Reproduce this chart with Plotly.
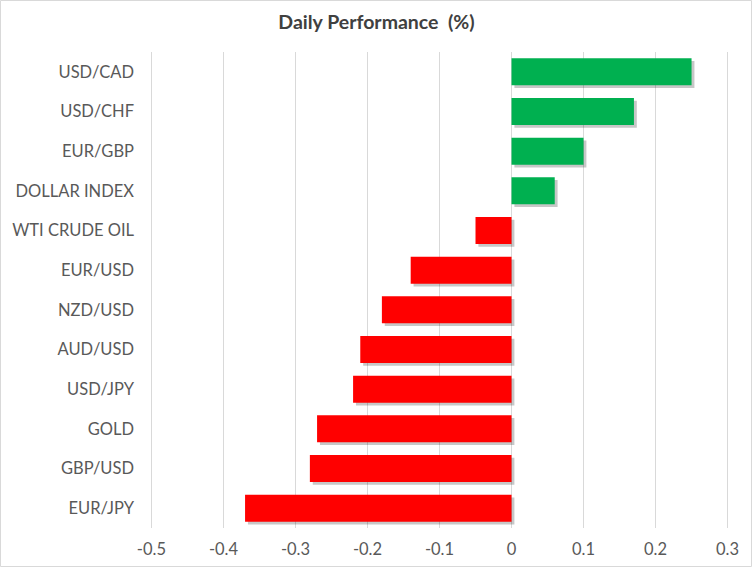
import plotly.graph_objects as go

categories = ["USD/CAD", "USD/CHF", "EUR/GBP", "DOLLAR INDEX", "WTI CRUDE OIL", "EUR/USD",
              "NZD/USD", "AUD/USD", "USD/JPY", "GOLD", "GBP/USD", "EUR/JPY"]
values = [0.25, 0.17, 0.10, 0.06, -0.05, -0.14, -0.18, -0.21, -0.22, -0.27, -0.28, -0.37]
x_ticks = [-0.5, -0.4, -0.3, -0.2, -0.1, 0, 0.1, 0.2, 0.3]
x_tick_labels = ["-0.5", "-0.4", "-0.3", "-0.2", "-0.1", "0", "0.1", "0.2", "0.3"]

GREEN = "#00B050"
RED = "#FF0000"
colors = [GREEN if v >= 0 else RED for v in values]

W, H = 753, 568
L, R, T, B = 150, 24, 52, 40
pw, ph = W - L - R, H - T - B

BAR_W = 0.68
fig = go.Figure()
# soft drop shadow
fig.add_trace(go.Bar(
    y=categories, x=values, base=0.004, orientation="h",
    width=BAR_W, offset=-BAR_W / 2 + 0.07,
    marker=dict(color="rgba(0,0,0,0.22)", line=dict(width=0)),
    hoverinfo="skip", showlegend=False))
fig.add_trace(go.Bar(
    y=categories, x=values, orientation="h",
    width=BAR_W, offset=-BAR_W / 2,
    marker=dict(color=colors, line=dict(width=0)),
    showlegend=False))

fig.update_layout(
    width=W, height=H,
    margin=dict(l=L, r=R, t=T, b=B, pad=0),
    paper_bgcolor="white", plot_bgcolor="white",
    barmode="overlay",
    font=dict(family="Lato, 'Open Sans', sans-serif", color="#595959", size=16.5),
    title=dict(text="<b>Daily Performance  (%)</b>", x=0.5, xanchor="center",
               y=1 - 22 / H, yanchor="middle",
               font=dict(size=19.5, color="#404040", family="Lato, sans-serif")),
    xaxis=dict(range=[-0.502, 0.302], tickvals=x_ticks, ticktext=x_tick_labels,
               showgrid=True, gridcolor="#D9D9D9", gridwidth=1,
               zeroline=False, showline=False, ticks="", ticklabelstandoff=9,
               automargin=False, fixedrange=True),
    yaxis=dict(autorange="reversed", showgrid=False, zeroline=False,
               showline=False, ticks="", ticklabelstandoff=15,
               automargin=False, fixedrange=True),
    shapes=[dict(type="rect", xref="paper", yref="paper",
                 x0=-(L - 0.5) / pw, x1=(W - L - 1.5) / pw,
                 y0=-(B - 1.5) / ph, y1=(ph + T - 0.5) / ph,
                 line=dict(color="#D9D9D9", width=1), layer="below")],
)

fig.write_html("out.html", config={"displayModeBar": False},
               post_script="document.body.style.margin='0';document.body.style.overflow='hidden';")
